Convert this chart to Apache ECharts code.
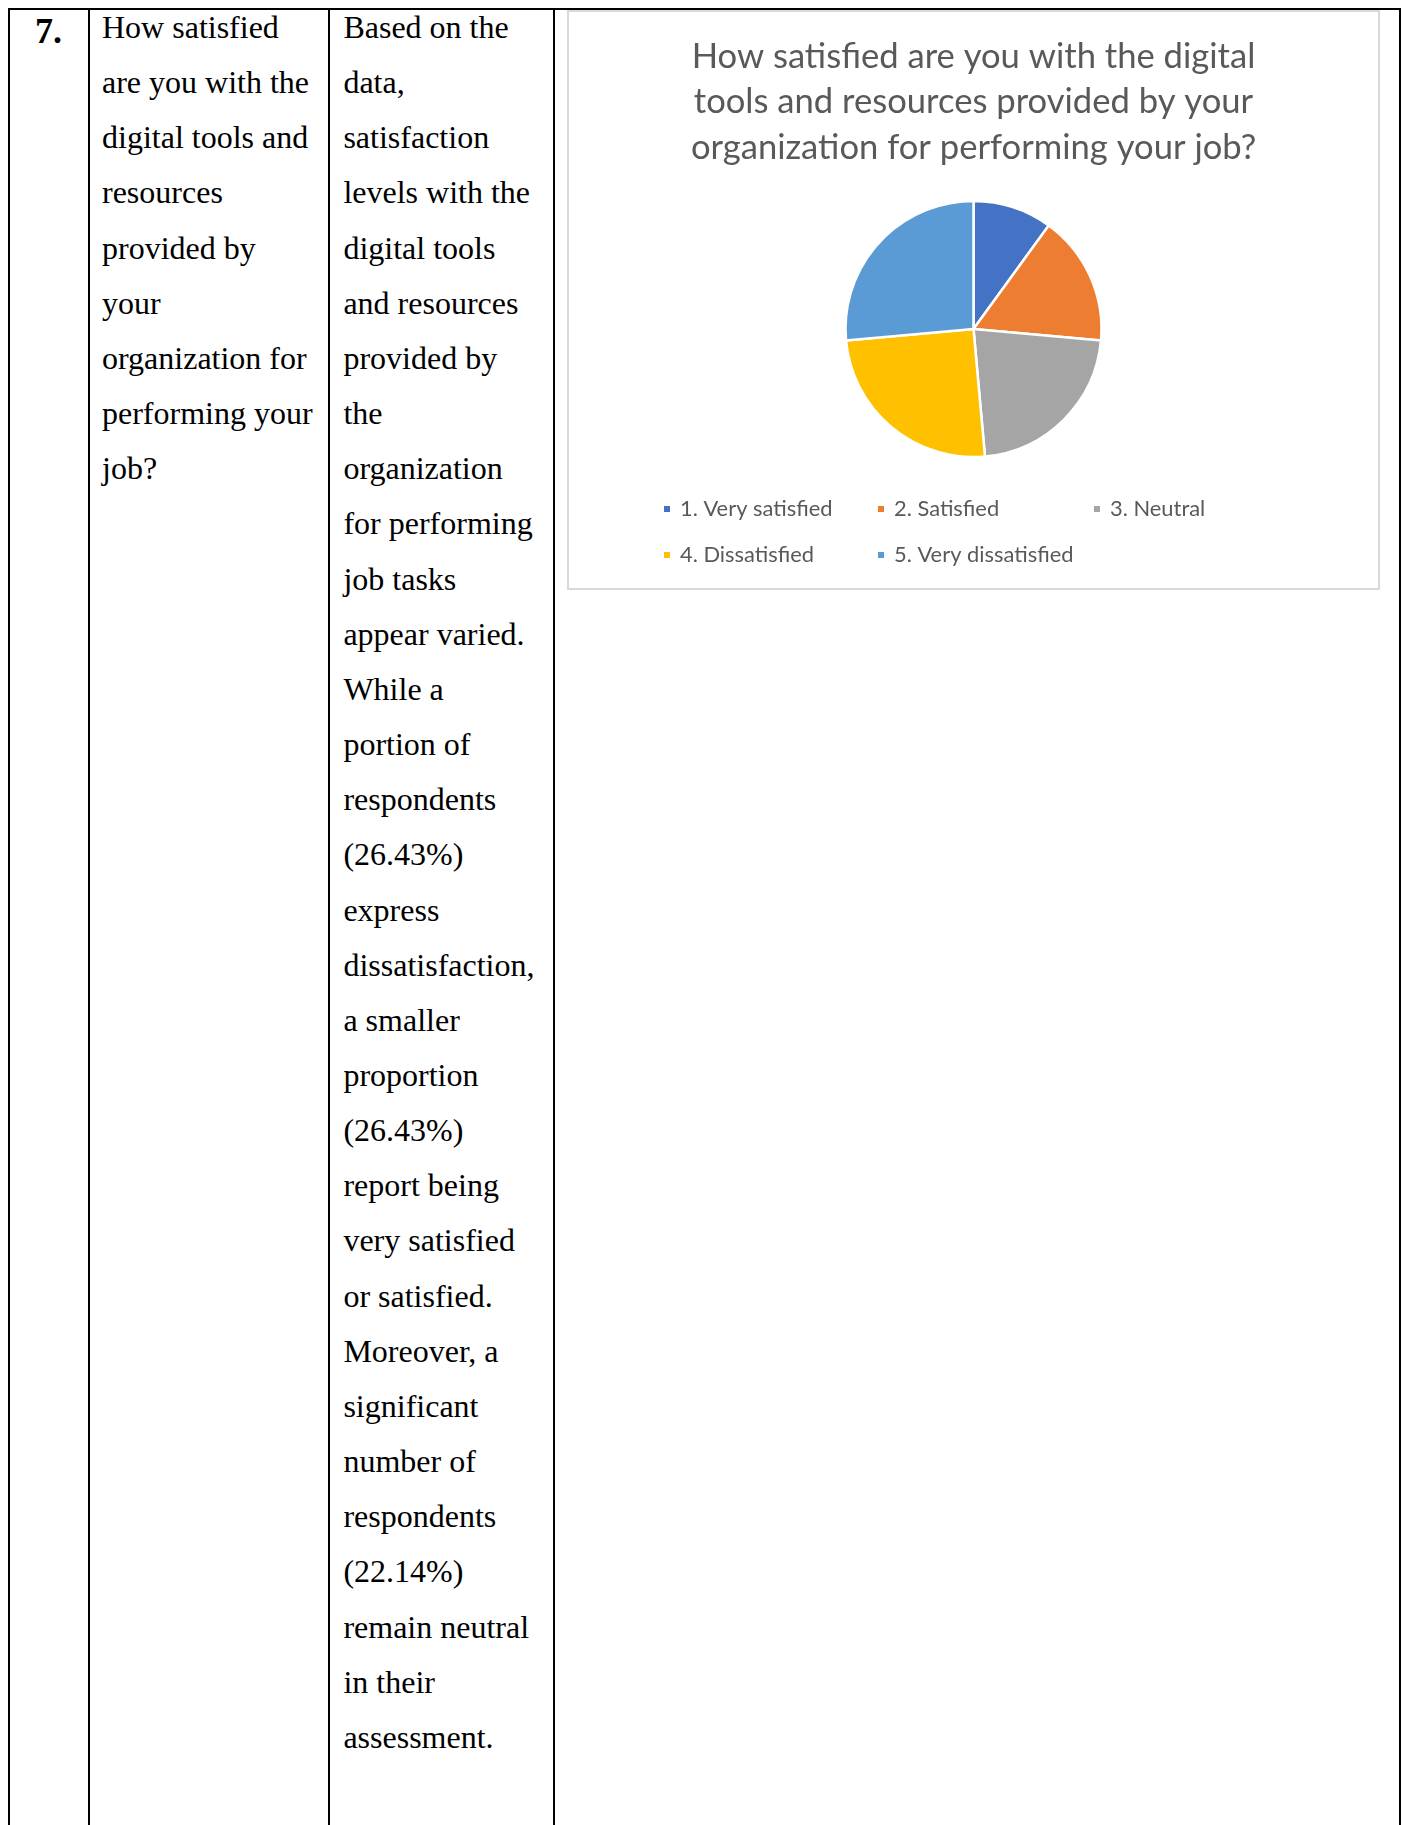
<!DOCTYPE html>
<html>
<head>
<meta charset="utf-8">
<script src="https://cdn.jsdelivr.net/npm/echarts@6/dist/echarts.min.js"></script>
<style>
html,body{margin:0;padding:0;background:#fff;}
body{width:1404px;height:1825px;position:relative;overflow:hidden;font-family:"Liberation Serif","Times New Roman",serif;color:#000;}
.ln{position:absolute;background:#000;}
.col{position:absolute;top:0;font-size:32px;line-height:55.15px;white-space:nowrap;}
#num{position:absolute;left:10px;width:77px;top:11px;text-align:center;font-weight:bold;font-size:36px;line-height:40px;}
#box{position:absolute;left:567px;top:10px;width:813px;height:580px;border:2px solid #d9d9d9;box-sizing:border-box;background:#fff;}
#chart{position:absolute;left:0;top:0;width:809px;height:576px;}
</style>
</head>
<body>
<div class="ln" style="left:8px;top:8px;width:1392px;height:2px;"></div>
<div class="ln" style="left:8px;top:8px;width:2px;height:1817px;"></div>
<div class="ln" style="left:87.5px;top:8px;width:2px;height:1817px;"></div>
<div class="ln" style="left:328px;top:8px;width:2px;height:1817px;"></div>
<div class="ln" style="left:553.3px;top:8px;width:1.8px;height:1817px;"></div>
<div class="ln" style="left:1398.5px;top:8px;width:2px;height:1817px;"></div>

<div id="num">7.</div>
<div class="col" style="left:102px;">How satisfied<br>are you with the<br>digital tools and<br>resources<br>provided by<br>your<br>organization for<br>performing your<br>job?</div>
<div class="col" style="left:343.4px;">Based on the<br>data,<br>satisfaction<br>levels with the<br>digital tools<br>and resources<br>provided by<br>the<br>organization<br>for performing<br>job tasks<br>appear varied.<br>While a<br>portion of<br>respondents<br>(26.43%)<br>express<br>dissatisfaction,<br>a smaller<br>proportion<br>(26.43%)<br>report being<br>very satisfied<br>or satisfied.<br>Moreover, a<br>significant<br>number of<br>respondents<br>(22.14%)<br>remain neutral<br>in their<br>assessment.</div>

<div id="box"><div id="chart"></div></div>

<script>
// ---- data ----
const categories = ['1. Very satisfied', '2. Satisfied', '3. Neutral', '4. Dissatisfied', '5. Very dissatisfied'];
const counts = [14, 23, 31, 35, 37];
const sliceColors = ['#4472C4', '#ED7D31', '#A5A5A5', '#FFC000', '#5B9BD5'];
const titleLines = ['How satisfied are you with the digital', 'tools and resources provided by your', 'organization for performing your job?'];

// ---- font fitting (match the reference text widths) ----
function fitSize(texts, targets, family) {
  const c = document.createElement('canvas').getContext('2d');
  c.font = '100px ' + family;
  let m = 0, t = 0;
  texts.forEach((s, i) => { m += c.measureText(s).width; t += targets[i]; });
  return 100 * t / m;
}
const FAMILY = 'Lato';
const titleFs = fitSize(titleLines, [561, 560, 568], FAMILY);
const legendFs = fitSize(categories, [153, 105, 95, 133, 181], FAMILY);

const legendLeft = [93, 307, 523, 93, 307];
const legendTop = [485, 485, 485, 531, 531];

const chart = echarts.init(document.getElementById('chart'), null, {renderer: 'canvas'});
chart.setOption({
  animation: false,
  color: sliceColors,
  title: {
    text: titleLines.join('\n'),
    left: 'center',
    top: 22,
    padding: 0,
    textStyle: {color: '#595959', fontFamily: FAMILY, fontWeight: 'normal', fontSize: titleFs, lineHeight: 45.5}
  },
  legend: categories.map((name, i) => ({
    data: [name],
    left: legendLeft[i],
    top: legendTop[i],
    padding: 0,
    itemWidth: 8,
    itemHeight: 8,
    icon: 'rect',
    selectedMode: false,
    textStyle: {color: '#595959', fontFamily: FAMILY, fontSize: legendFs, lineHeight: 24, padding: [0, 0, 0, 4]}
  })),
  series: [{
    type: 'pie',
    radius: 128,
    center: ['50%', 317],
    startAngle: 90,
    clockwise: true,
    label: {show: false},
    labelLine: {show: false},
    emphasis: {disabled: true},
    itemStyle: {borderColor: '#ffffff', borderWidth: 2.5},
    data: categories.map((n, i) => ({name: n, value: counts[i]}))
  }]
});
</script>
</body>
</html>
